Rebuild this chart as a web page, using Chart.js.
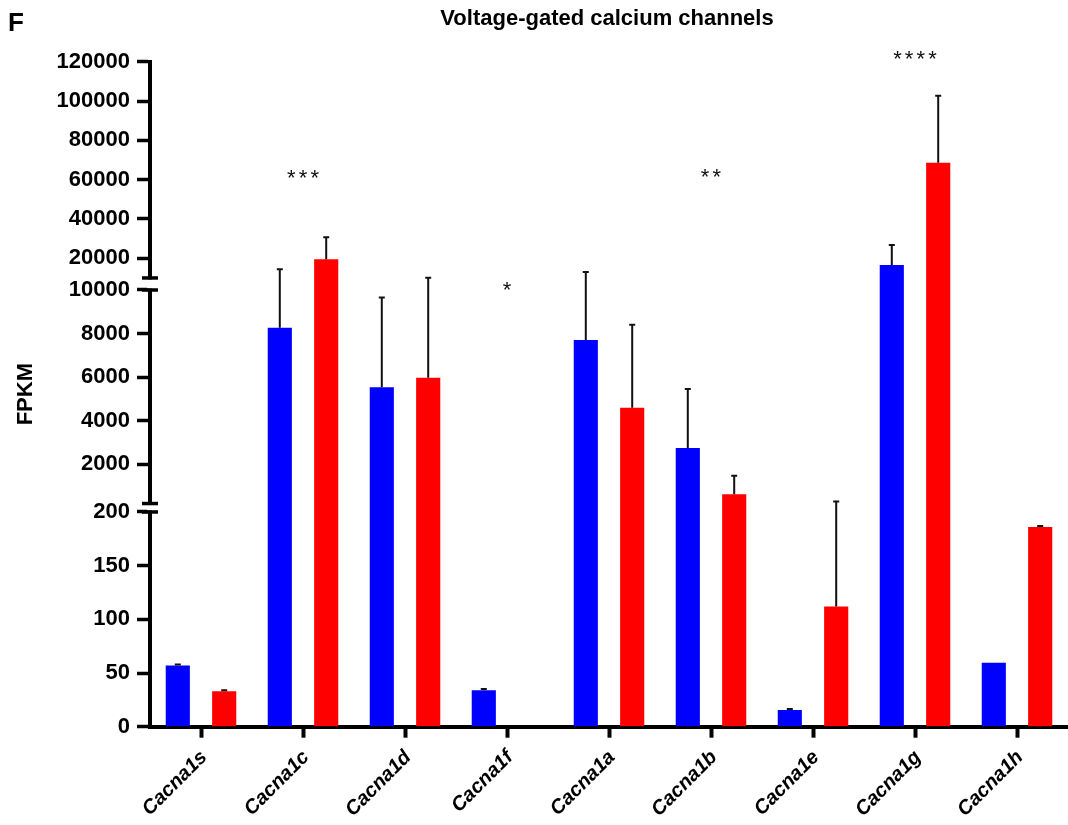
<!DOCTYPE html>
<html lang="en">
<head>
<meta charset="UTF-8" />
<title>Voltage-gated calcium channels</title>
<style>
  body { margin: 0; background: #fff; }
  #wrap { width: 1068px; height: 825px; }
</style>
</head>
<body>
<div id="wrap"><canvas id="chart" width="1068" height="825"></canvas></div>

<script src="https://cdn.jsdelivr.net/npm/chart.js"></script>
<script>
  // FPKM per gene, mean and upper SD for the two groups
  const genes = ["Cacna1s", "Cacna1c", "Cacna1d", "Cacna1f", "Cacna1a", "Cacna1b", "Cacna1e", "Cacna1g", "Cacna1h"];
  const blueMean = [57, 8270, 5540, 34, 7710, 2750, 15.5, 16600, 59.5];
  const blueSD   = [1, 6130, 4120, 1, 5340, 2710, 1, 10160, 0];
  const redMean  = [33, 19500, 5970, 0, 4590, 630, 112, 68600, 186];
  const redSD    = [1, 11200, 4130, 0, 3810, 850, 178, 34100, 1];

  const yTicks = [0, 50, 100, 150, 200, 2000, 4000, 6000, 8000, 10000,
                  20000, 40000, 60000, 80000, 100000, 120000];

  const stars     = ["", "***", "", "*", "", "**", "", "****", ""];
  const starLevel = [null, 61000, null, 10000, null, 61500, null, 121500, null];

  // three linear pieces of the broken y axis (value range -> share of axis height)
  const segments = [
    { from: 0,     to: 200,    start: 0,      end: 0.3229 },
    { from: 200,   to: 10000,  start: 0.3356, end: 0.6567 },
    { from: 10000, to: 120000, start: 0.6748, end: 1 }
  ];

  const FONT = "'Liberation Sans', Arial, sans-serif";

  class BrokenLinearScale extends Chart.LinearScale {
    getPixelForValue(value) {
      if (value === null || isNaN(value)) return NaN;
      const s = segments.find(seg => value <= seg.to) || segments[segments.length - 1];
      const f = s.start + (value - s.from) / (s.to - s.from) * (s.end - s.start);
      return this.getPixelForDecimal(f);
    }
    getValueForPixel(pixel) {
      const f = this.getDecimalForPixel(pixel);
      let s = segments.find(seg => f <= seg.end) || segments[segments.length - 1];
      const t = Math.min(Math.max((f - s.start) / (s.end - s.start), 0), 1);
      return s.from + t * (s.to - s.from);
    }
  }
  BrokenLinearScale.id = "brokenLinear";
  BrokenLinearScale.defaults = Chart.LinearScale.defaults;
  Chart.register(BrokenLinearScale);

  // upward SD whiskers with a short cap
  const errorBars = {
    id: "errorBars",
    afterDatasetsDraw(chart) {
      const { ctx } = chart;
      const y = chart.scales.y;
      ctx.save();
      ctx.strokeStyle = "#111";
      ctx.lineWidth = 2;
      chart.data.datasets.forEach((ds, i) => {
        const meta = chart.getDatasetMeta(i);
        meta.data.forEach((bar, j) => {
          const v = ds.data[j];
          const sd = ds.sd[j];
          if (!v || !sd) return;
          const top = y.getPixelForValue(v + sd);
          ctx.beginPath();
          ctx.moveTo(bar.x, bar.y);
          ctx.lineTo(bar.x, top);
          ctx.moveTo(bar.x - 3, top);
          ctx.lineTo(bar.x + 3, top);
          ctx.stroke();
        });
      });
      ctx.restore();
    }
  };

  // axis breaks, panel letter, title and significance stars
  const decorations = {
    id: "decorations",
    afterDraw(chart) {
      const { ctx, chartArea } = chart;
      const y = chart.scales.y;
      const x = chart.scales.x;
      const ax = chartArea.left;
      ctx.save();

      for (let k = 0; k < segments.length - 1; k++) {
        const low = y.getPixelForDecimal(segments[k].end);
        const high = y.getPixelForDecimal(segments[k + 1].start);
        ctx.fillStyle = "#fff";
        ctx.fillRect(ax - 3, high + 1.5, 6, low - high - 3);
        ctx.fillStyle = "#000";
        ctx.fillRect(ax - 8, low - 1.75, 16, 3.5);
        ctx.fillRect(ax - 8, high - 1.75, 16, 3.5);
      }

      ctx.fillStyle = "#000";
      ctx.textAlign = "left";
      ctx.textBaseline = "alphabetic";
      ctx.font = "bold 26px " + FONT;
      ctx.fillText("F", 8, 31);

      ctx.textAlign = "center";
      ctx.font = "bold 22px " + FONT;
      ctx.fillText("Voltage-gated calcium channels", 607, 25);

      ctx.font = "22px " + FONT;
      ctx.fillStyle = "#111";
      const m = ctx.measureText("*");
      stars.forEach((s, i) => {
        if (!s) return;
        const cx = x.getPixelForValue(i);
        const base = y.getPixelForValue(starLevel[i]) - m.actualBoundingBoxDescent;
        for (let k = 0; k < s.length; k++) {
          ctx.fillText("*", cx + (k - (s.length - 1) / 2) * 11.7, base);
        }
      });
      ctx.restore();
    }
  };

  new Chart(document.getElementById("chart"), {
    type: "bar",
    data: {
      labels: genes,
      datasets: [
        { label: "Group 1", data: blueMean, sd: blueSD, backgroundColor: "#0000ff",
          barPercentage: 0.52, categoryPercentage: 0.91 },
        { label: "Group 2", data: redMean, sd: redSD, backgroundColor: "#ff0000",
          barPercentage: 0.52, categoryPercentage: 0.91 }
      ]
    },
    options: {
      responsive: false,
      animation: false,
      layout: { padding: { top: 61.7, left: 0, right: 0, bottom: 0 } },
      plugins: { legend: { display: false }, tooltip: { enabled: false } },
      scales: {
        x: {
          afterFit: axis => { axis.height = 98.3; },
          ticks: {
            color: "#000", autoSkip: false, minRotation: 45, maxRotation: 45, padding: 8, labelOffset: 3,
            font: { family: FONT, size: 20, weight: "bold", style: "italic" }
          },
          grid: { offset: false, drawOnChartArea: false, tickLength: 11, tickWidth: 4, color: "#000", tickColor: "#000" },
          border: { color: "#000", width: 4 }
        },
        y: {
          type: "brokenLinear",
          min: 0,
          max: 120000,
          afterBuildTicks: axis => { axis.ticks = yTicks.map(v => ({ value: v })); },
          afterFit: axis => { axis.width = 150; },
          ticks: {
            color: "#000", autoSkip: false, padding: 7,
            callback: v => String(v),
            font: { family: FONT, size: 22, weight: "bold" }
          },
          grid: { drawOnChartArea: false, tickLength: 13, tickWidth: 3.5, color: "#000", tickColor: "#000" },
          border: { color: "#000", width: 4 },
          title: {
            display: true, text: "FPKM", color: "#000",
            font: { family: FONT, size: 22, weight: "bold" },
            padding: { top: 13, bottom: 0 }
          }
        }
      }
    },
    plugins: [errorBars, decorations]
  });
</script>
</body>
</html>
